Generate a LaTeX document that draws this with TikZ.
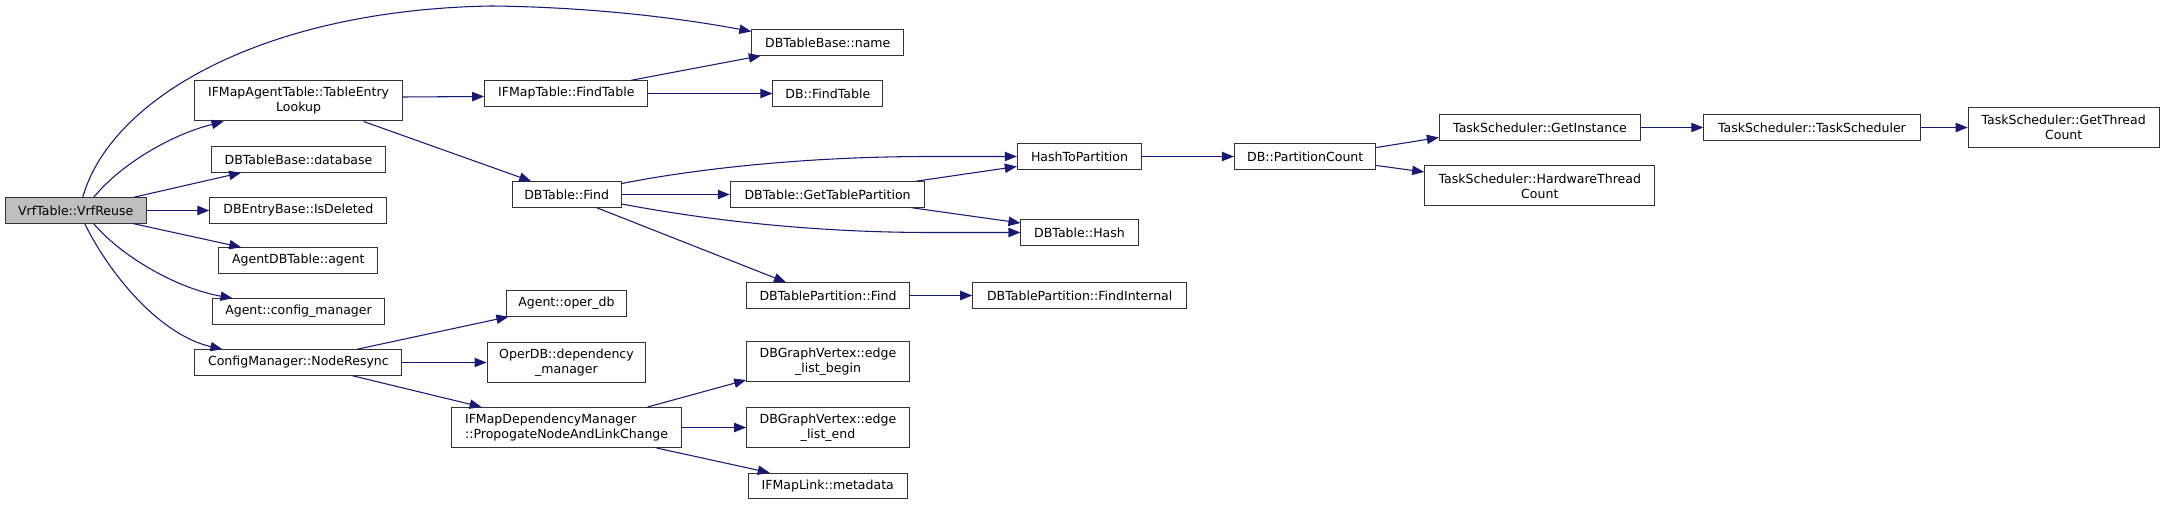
\documentclass[tikz,border=0pt]{standalone}
\usepackage{fontspec}
\setmainfont{DejaVu Sans}
\usetikzlibrary{calc,arrows.meta}
\definecolor{edgeblue}{HTML}{191970}
\definecolor{boxline}{HTML}{333333}
\definecolor{greyfill}{HTML}{BFBFBF}
\tikzset{
  fn/.style={draw=boxline, line width=0.75pt, fill=white, inner sep=0pt, align=center,
    font=\fontsize{9.4}{11.3}\selectfont, minimum height=19.1pt},
  fn2/.style={fn, minimum height=30pt},
  calledge/.style={draw=edgeblue, line width=0.8pt, -{Triangle[length=9pt,width=7pt]}},
}
\begin{document}
\begin{tikzpicture}[x=0.75pt,y=-0.75pt]
\useasboundingbox (0,0) rectangle (2165,505);
% nodes (positions in px of reference, y downwards)
\node[fn, fill=greyfill, minimum width=106pt] (vr) at (75.75,210.5) {VrfTable::VrfReuse};
\node[fn2, minimum width=156pt] (tel) at (298.6,101) {IFMapAgentTable::TableEntry\\Lookup};
\node[fn, minimum width=130.9pt] (dbb) at (298.5,159.5) {DBTableBase::database};
\node[fn, minimum width=132.8pt] (isd) at (298.4,210.5) {DBEntryBase::IsDeleted};
\node[fn, minimum width=119.2pt] (agt) at (298.25,260.5) {AgentDBTable::agent};
\node[fn, minimum width=129pt] (cfm) at (298.5,311.5) {Agent::config\_manager};
\node[fn, minimum width=155.2pt] (nrs) at (298.4,362.5) {ConfigManager::NodeResync};
\node[fn, minimum width=122.5pt] (ift) at (566.3,93.5) {IFMapTable::FindTable};
\node[fn, minimum width=82pt] (dbf) at (566.7,194.5) {DBTable::Find};
\node[fn, minimum width=90pt] (odb) at (566.4,303.5) {Agent::oper\_db};
\node[fn2, minimum width=119.2pt] (odm) at (566.5,362.5) {OperDB::dependency\\\_manager};
\node[fn2, minimum width=173pt, align=left] (idm) at (566.6,427.5) {IFMapDependencyManager\\::PropogateNodeAndLinkChange};
\node[fn, minimum width=114pt] (nam) at (827.8,42.5) {DBTableBase::name};
\node[fn, minimum width=82.3pt] (dft) at (827.8,93.5) {DB::FindTable};
\node[fn, minimum width=146pt] (gtp) at (827.6,194.5) {DBTable::GetTablePartition};
\node[fn, minimum width=122pt] (dpf) at (828,295.5) {DBTablePartition::Find};
\node[fn2, minimum width=122pt] (elb) at (828,362) {DBGraphVertex::edge\\\_list\_begin};
\node[fn2, minimum width=122pt] (ele) at (828,427.5) {DBGraphVertex::edge\\\_list\_end};
\node[fn, minimum width=118.9pt] (iml) at (827.75,486) {IFMapLink::metadata};
\node[fn, minimum width=93.3pt] (htp) at (1079.5,156.5) {HashToPartition};
\node[fn, minimum width=87.8pt] (dbh) at (1079.5,232.5) {DBTable::Hash};
\node[fn, minimum width=160.5pt] (dfi) at (1079.7,295.5) {DBTablePartition::FindInternal};
\node[fn, minimum width=106.1pt] (dpc) at (1305.2,156.5) {DB::PartitionCount};
\node[fn, minimum width=151pt] (gin) at (1540,127.5) {TaskScheduler::GetInstance};
\node[fn2, minimum width=172.7pt] (hwt) at (1539.8,186) {TaskScheduler::HardwareThread\\Count};
\node[fn, minimum width=162.2pt] (tsc) at (1811.9,127.5) {TaskScheduler::TaskScheduler};
\node[fn2, minimum width=143.3pt] (gtc) at (2063.7,127.5) {TaskScheduler::GetThread\\Count};
% edges
\draw[calledge] ($(vr.north)+(7,0)$) .. controls (110,100) and (260,10) .. (491,6)
   .. controls (590,7) and (680,18) .. ($(nam.west)+(0,-11)$);
\draw[calledge] ($(vr.north)+(18,0)$) .. controls (120,165) and (170,135) .. ($(tel.south)+(-75,0)$);
\draw[calledge] ($(vr.north)+(58,0)$) -- ($(dbb.south)+(-57.5,0)$);
\draw[calledge] (vr.east) -- (isd.west);
\draw[calledge] ($(vr.south)+(58,0)$) -- ($(agt.north)+(-57,0)$);
\draw[calledge] ($(vr.south)+(18,0)$) .. controls (120,255) and (175,288) .. ($(cfm.north)+(-66,0)$);
\draw[calledge] ($(vr.south)+(9,0)$) .. controls (110,275) and (160,335) .. ($(nrs.north)+(-76,0)$);
\draw[calledge] ($(tel.east)+(0,-4)$) -- ($(ift.west)+(0,3)$);
\draw[calledge] ($(tel.south)+(65,0)$) -- ($(dbf.north)+(-35.5,0)$);
\draw[calledge] ($(ift.north)+(65,0)$) -- ($(nam.south)+(-67,0)$);
\draw[calledge] (ift.east) -- (dft.west);
\draw[calledge] ($(dbf.east)+(0,-11)$) .. controls (690,170) and (800,156.5) .. (930,156.5) -- (htp.west);
\draw[calledge] (dbf.east) -- (gtp.west);
\draw[calledge] ($(dbf.east)+(0,9.5)$) .. controls (690,217) and (800,232.5) .. (930,232.5) -- (dbh.west);
\draw[calledge] ($(dbf.south)+(30,0)$) -- ($(dpf.north)+(-42,0)$);
\draw[calledge] ($(gtp.north)+(88,0)$) -- ($(htp.west)+(0,10)$);
\draw[calledge] ($(gtp.south)+(84,0)$) -- ($(dbh.west)+(0,-9.5)$);
\draw[calledge] (htp.east) -- (dpc.west);
\draw[calledge] ($(dpc.east)+(0,-9)$) -- ($(gin.west)+(0,10)$);
\draw[calledge] ($(dpc.east)+(0,9)$) -- ($(hwt.west)+(0,-14)$);
\draw[calledge] (gin.east) -- (tsc.west);
\draw[calledge] (tsc.east) -- (gtc.west);
\draw[calledge] (dpf.east) -- (dfi.west);
\draw[calledge] ($(nrs.north)+(58.6,0)$) -- ($(odb.south)+(-58,0)$);
\draw[calledge] (nrs.east) -- (odm.west);
\draw[calledge] ($(nrs.south)+(54,0)$) -- ($(idm.north)+(-85,0)$);
\draw[calledge] ($(idm.north)+(81,0)$) -- ($(elb.west)+(0,18)$);
\draw[calledge] (idm.east) -- (ele.west);
\draw[calledge] ($(idm.south)+(90,0)$) -- ($(iml.north)+(-58,0)$);
\end{tikzpicture}
\end{document}
